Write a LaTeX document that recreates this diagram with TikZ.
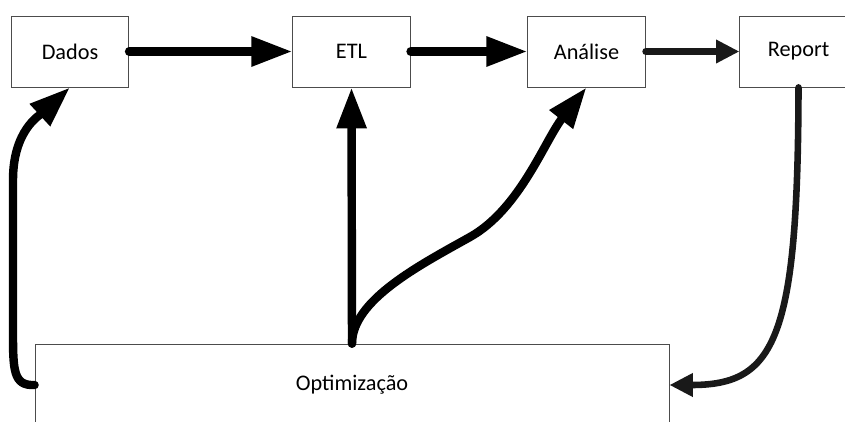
\documentclass[tikz,border=0pt]{standalone}
\usepackage{fontspec}
\setmainfont{Carlito}
\usetikzlibrary{arrows.meta}

\begin{document}
\begin{tikzpicture}[x=0.03cm,y=-0.03cm,
    box/.style={draw=black!70,line width=0.7pt,fill=white,inner sep=0pt,
      minimum width=3.52cm,minimum height=2.13cm,
      font=\fontsize{19}{23}\selectfont},
    flow/.style={line width=7.2pt,line cap=round,
      -{Triangle[length=35pt,width=24pt]}},
    flowgray/.style={line width=5.6pt,color=black!90,line cap=round,
      -{Triangle[length=20pt,width=19pt]}}]
      \clip (0,0) rectangle (845,421);
      \draw
        (70,51.5) node[box] (dados){Dados}
        (351.5,51.5) node[box] (etl){ETL}
        (586.5,51.5) node[box] (analise){Análise}
        (798.5,51.5) node[box] (report){Report}
        (352,385) node[box,minimum width=19.02cm,minimum height=2.46cm] (otim){Optimização};
      \begin{scope}[flow]
        \draw (dados.east) to (etl.west);
        \draw (etl.east) to (analise.west);
        \draw (otim.north) to (etl.south);
        \draw (otim.north) .. controls (352,300) and (420,265) .. (470,237)
          .. controls (520,209) and (545,140) .. (analise.south);
        \draw (otim.west) .. controls (13,386) and (13,370) .. (13,330)
          -- (13,180) .. controls (13,130) and (40,115) .. (dados.south);
      \end{scope}
      \begin{scope}[flowgray]
        \draw (analise.east) to (report.west);
        \draw (report.south) .. controls (798,340) and (775,385) .. (otim.east);
      \end{scope}
    \end{tikzpicture}
\end{document}
